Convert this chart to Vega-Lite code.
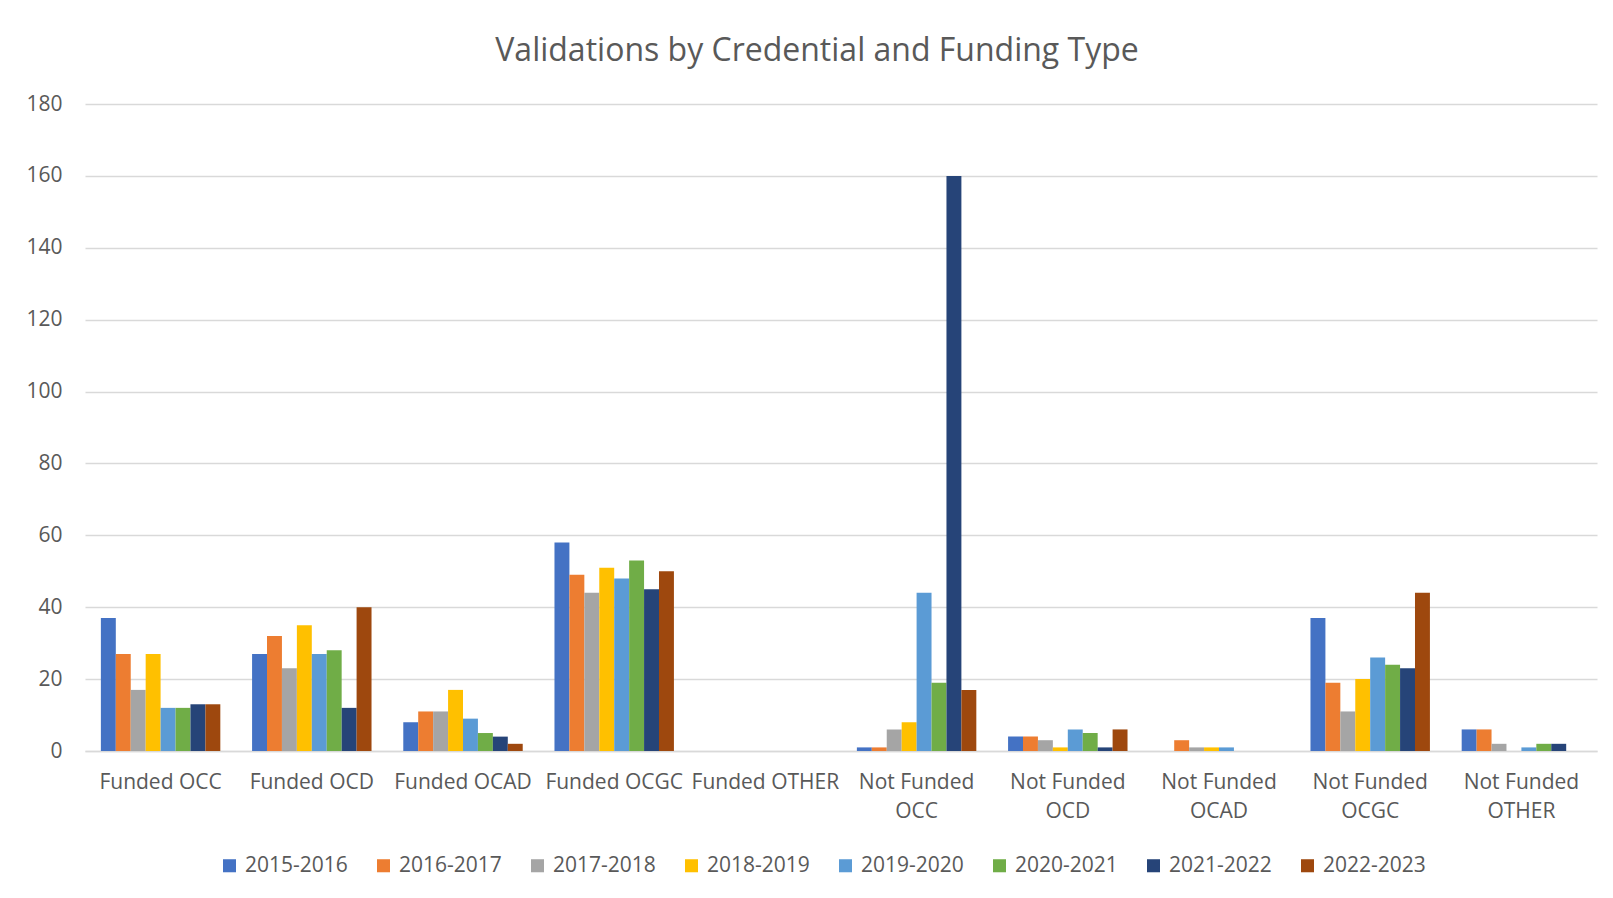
{
  "$schema": "https://vega.github.io/schema/vega-lite/v6.json",
  "width": 1512,
  "height": 647,
  "autosize": {"type": "none"},
  "padding": {"left": 85, "top": 104, "right": 16, "bottom": 147},
  "background": "white",
  "title": {
    "text": "Validations by Credential and Funding Type",
    "font": "Open Sans",
    "fontSize": 32,
    "fontWeight": "normal",
    "color": "#595959",
    "anchor": "middle",
    "offset": 25,
    "dx": -24
  },
  "data": {
    "values": [
      {"type": "Funded OCC", "year": "2015-2016", "count": 37},
      {"type": "Funded OCC", "year": "2016-2017", "count": 27},
      {"type": "Funded OCC", "year": "2017-2018", "count": 17},
      {"type": "Funded OCC", "year": "2018-2019", "count": 27},
      {"type": "Funded OCC", "year": "2019-2020", "count": 12},
      {"type": "Funded OCC", "year": "2020-2021", "count": 12},
      {"type": "Funded OCC", "year": "2021-2022", "count": 13},
      {"type": "Funded OCC", "year": "2022-2023", "count": 13},
      {"type": "Funded OCD", "year": "2015-2016", "count": 27},
      {"type": "Funded OCD", "year": "2016-2017", "count": 32},
      {"type": "Funded OCD", "year": "2017-2018", "count": 23},
      {"type": "Funded OCD", "year": "2018-2019", "count": 35},
      {"type": "Funded OCD", "year": "2019-2020", "count": 27},
      {"type": "Funded OCD", "year": "2020-2021", "count": 28},
      {"type": "Funded OCD", "year": "2021-2022", "count": 12},
      {"type": "Funded OCD", "year": "2022-2023", "count": 40},
      {"type": "Funded OCAD", "year": "2015-2016", "count": 8},
      {"type": "Funded OCAD", "year": "2016-2017", "count": 11},
      {"type": "Funded OCAD", "year": "2017-2018", "count": 11},
      {"type": "Funded OCAD", "year": "2018-2019", "count": 17},
      {"type": "Funded OCAD", "year": "2019-2020", "count": 9},
      {"type": "Funded OCAD", "year": "2020-2021", "count": 5},
      {"type": "Funded OCAD", "year": "2021-2022", "count": 4},
      {"type": "Funded OCAD", "year": "2022-2023", "count": 2},
      {"type": "Funded OCGC", "year": "2015-2016", "count": 58},
      {"type": "Funded OCGC", "year": "2016-2017", "count": 49},
      {"type": "Funded OCGC", "year": "2017-2018", "count": 44},
      {"type": "Funded OCGC", "year": "2018-2019", "count": 51},
      {"type": "Funded OCGC", "year": "2019-2020", "count": 48},
      {"type": "Funded OCGC", "year": "2020-2021", "count": 53},
      {"type": "Funded OCGC", "year": "2021-2022", "count": 45},
      {"type": "Funded OCGC", "year": "2022-2023", "count": 50},
      {"type": "Funded OTHER", "year": "2015-2016", "count": 0},
      {"type": "Funded OTHER", "year": "2016-2017", "count": 0},
      {"type": "Funded OTHER", "year": "2017-2018", "count": 0},
      {"type": "Funded OTHER", "year": "2018-2019", "count": 0},
      {"type": "Funded OTHER", "year": "2019-2020", "count": 0},
      {"type": "Funded OTHER", "year": "2020-2021", "count": 0},
      {"type": "Funded OTHER", "year": "2021-2022", "count": 0},
      {"type": "Funded OTHER", "year": "2022-2023", "count": 0},
      {"type": "Not Funded OCC", "year": "2015-2016", "count": 1},
      {"type": "Not Funded OCC", "year": "2016-2017", "count": 1},
      {"type": "Not Funded OCC", "year": "2017-2018", "count": 6},
      {"type": "Not Funded OCC", "year": "2018-2019", "count": 8},
      {"type": "Not Funded OCC", "year": "2019-2020", "count": 44},
      {"type": "Not Funded OCC", "year": "2020-2021", "count": 19},
      {"type": "Not Funded OCC", "year": "2021-2022", "count": 160},
      {"type": "Not Funded OCC", "year": "2022-2023", "count": 17},
      {"type": "Not Funded OCD", "year": "2015-2016", "count": 4},
      {"type": "Not Funded OCD", "year": "2016-2017", "count": 4},
      {"type": "Not Funded OCD", "year": "2017-2018", "count": 3},
      {"type": "Not Funded OCD", "year": "2018-2019", "count": 1},
      {"type": "Not Funded OCD", "year": "2019-2020", "count": 6},
      {"type": "Not Funded OCD", "year": "2020-2021", "count": 5},
      {"type": "Not Funded OCD", "year": "2021-2022", "count": 1},
      {"type": "Not Funded OCD", "year": "2022-2023", "count": 6},
      {"type": "Not Funded OCAD", "year": "2015-2016", "count": 0},
      {"type": "Not Funded OCAD", "year": "2016-2017", "count": 3},
      {"type": "Not Funded OCAD", "year": "2017-2018", "count": 1},
      {"type": "Not Funded OCAD", "year": "2018-2019", "count": 1},
      {"type": "Not Funded OCAD", "year": "2019-2020", "count": 1},
      {"type": "Not Funded OCAD", "year": "2020-2021", "count": 0},
      {"type": "Not Funded OCAD", "year": "2021-2022", "count": 0},
      {"type": "Not Funded OCAD", "year": "2022-2023", "count": 0},
      {"type": "Not Funded OCGC", "year": "2015-2016", "count": 37},
      {"type": "Not Funded OCGC", "year": "2016-2017", "count": 19},
      {"type": "Not Funded OCGC", "year": "2017-2018", "count": 11},
      {"type": "Not Funded OCGC", "year": "2018-2019", "count": 20},
      {"type": "Not Funded OCGC", "year": "2019-2020", "count": 26},
      {"type": "Not Funded OCGC", "year": "2020-2021", "count": 24},
      {"type": "Not Funded OCGC", "year": "2021-2022", "count": 23},
      {"type": "Not Funded OCGC", "year": "2022-2023", "count": 44},
      {"type": "Not Funded OTHER", "year": "2015-2016", "count": 6},
      {"type": "Not Funded OTHER", "year": "2016-2017", "count": 6},
      {"type": "Not Funded OTHER", "year": "2017-2018", "count": 2},
      {"type": "Not Funded OTHER", "year": "2018-2019", "count": 0},
      {"type": "Not Funded OTHER", "year": "2019-2020", "count": 1},
      {"type": "Not Funded OTHER", "year": "2020-2021", "count": 2},
      {"type": "Not Funded OTHER", "year": "2021-2022", "count": 2},
      {"type": "Not Funded OTHER", "year": "2022-2023", "count": 0}
    ]
  },
  "mark": {"type": "bar"},
  "encoding": {
    "x": {
      "field": "type",
      "type": "nominal",
      "sort": null,
      "title": null,
      "scale": {"paddingInner": 0.21, "paddingOuter": 0.105},
      "axis": {
        "labelAngle": 0,
        "labelFont": "Open Sans",
        "labelFontSize": 21,
        "labelColor": "#595959",
        "labelPadding": 20,
        "labelLineHeight": 29,
        "labelBaseline": "top",
        "ticks": false,
        "domainColor": "#d9d9d9",
        "domainWidth": 1.5,
        "labelExpr": "indexof(datum.value, 'Not Funded') == 0 ? ['Not Funded', slice(datum.value, 11)] : datum.value"
      }
    },
    "xOffset": {
      "field": "year",
      "type": "nominal",
      "scale": {"paddingInner": 0, "paddingOuter": 0}
    },
    "y": {
      "field": "count",
      "type": "quantitative",
      "title": null,
      "scale": {"domain": [0, 180]},
      "axis": {
        "values": [0, 20, 40, 60, 80, 100, 120, 140, 160, 180],
        "labelFont": "Open Sans",
        "labelFontSize": 21,
        "labelColor": "#595959",
        "labelPadding": 23,
        "ticks": false,
        "domain": false,
        "gridColor": "#d9d9d9",
        "gridWidth": 1.5
      }
    },
    "color": {
      "field": "year",
      "type": "nominal",
      "title": null,
      "scale": {
        "domain": ["2015-2016", "2016-2017", "2017-2018", "2018-2019", "2019-2020", "2020-2021", "2021-2022", "2022-2023"],
        "range": ["#4472C4", "#ED7D31", "#A5A5A5", "#FFC000", "#5B9BD5", "#70AD47", "#264478", "#9E480E"]
      },
      "legend": {
        "orient": "none",
        "legendX": 134,
        "legendY": 751,
        "direction": "horizontal",
        "columns": 8,
        "symbolType": "square",
        "symbolSize": 170,
        "symbolStrokeWidth": 0,
        "labelFont": "Open Sans",
        "labelFontSize": 21,
        "labelColor": "#595959",
        "labelOffset": 5,
        "columnPadding": 25
      }
    }
  },
  "config": {"view": {"stroke": null}}
}
